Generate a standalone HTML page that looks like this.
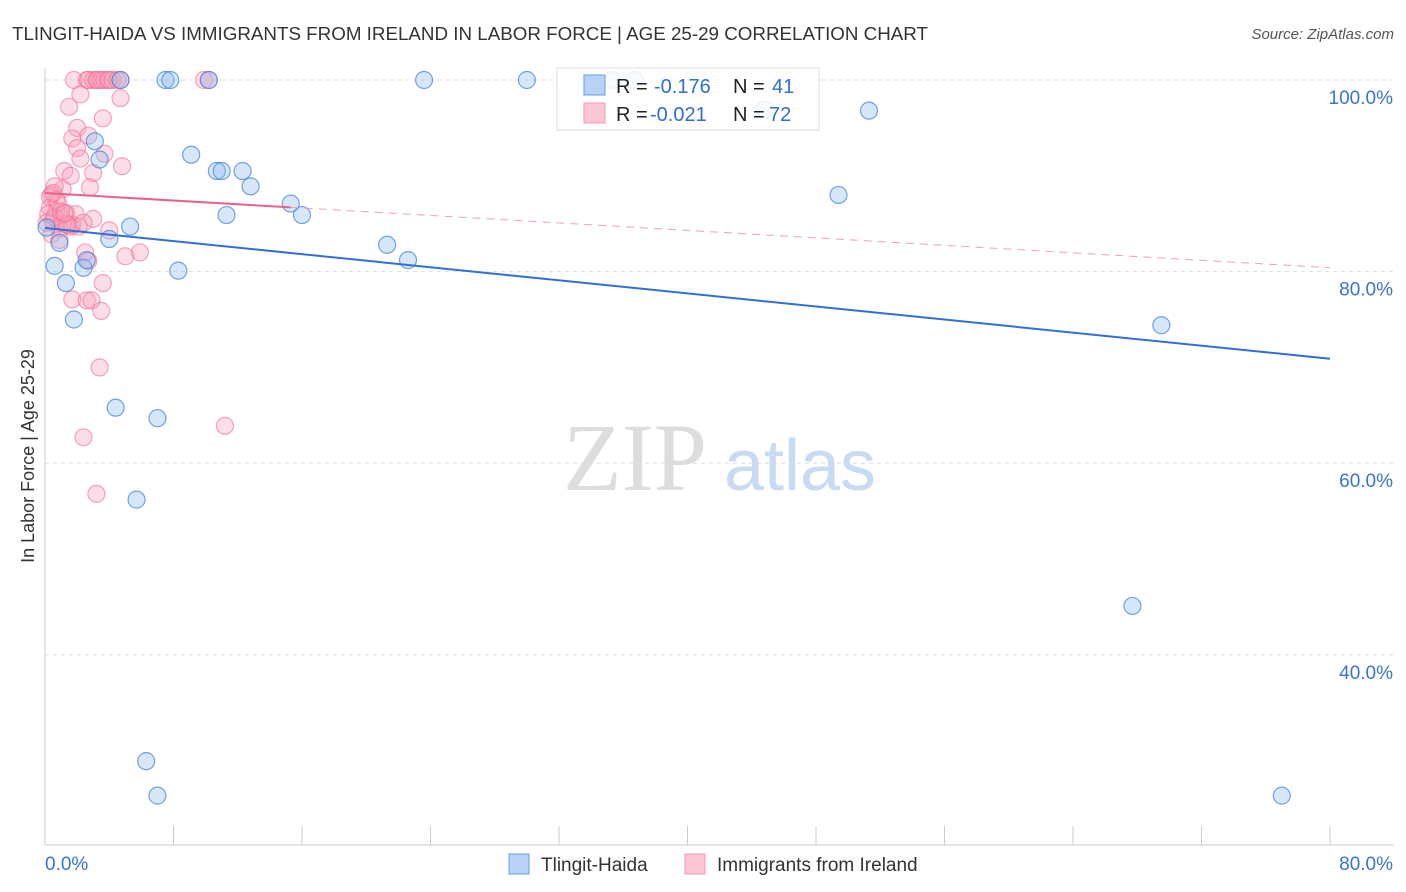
<!DOCTYPE html>
<html><head><meta charset="utf-8"><style>
body{margin:0;background:#fff;font-family:"Liberation Sans",sans-serif;}
svg{display:block}
</style></head><body>
<svg id="chart" width="1406" height="892" xmlns="http://www.w3.org/2000/svg">
<text x="12" y="40" font-size="18.5" fill="#333" textLength="916" lengthAdjust="spacingAndGlyphs">TLINGIT-HAIDA VS IMMIGRANTS FROM IRELAND IN LABOR FORCE | AGE 25-29 CORRELATION CHART</text>
<text x="1394" y="39" font-size="15" fill="#555" text-anchor="end" font-style="italic">Source: ZipAtlas.com</text>
<g id="grid"></g>
<g>
<text x="635" y="490" font-size="96" fill="#ddd" text-anchor="middle" font-family="Liberation Serif,serif">ZIP</text>
<text x="800" y="490" font-size="72" fill="#c9dbf3" text-anchor="middle">atlas</text>
</g>
<g id="marks"></g>
<g id="lines"></g>
<text transform="translate(34,456) rotate(-90)" font-size="18" fill="#333" text-anchor="middle">In Labor Force | Age 25-29</text>
<g>
<rect x="557" y="68" width="262" height="62" fill="#fff" fill-opacity="0.85" stroke="#ddd"/>
<rect x="584" y="75" width="21" height="20" fill="#b7d2f5" stroke="#6a9de0"/>
<rect x="584" y="103" width="21" height="20" fill="#fcc6d4" stroke="#f09ab2"/>
<text x="616" y="93" font-size="20" fill="#222">R =</text>
<text x="654" y="93" font-size="20" fill="#2f6fd0">-0.176</text>
<text x="733" y="93" font-size="20" fill="#222">N =</text>
<text x="772" y="93" font-size="20" fill="#2f6fd0">41</text>
<text x="616" y="121" font-size="20" fill="#222">R =</text>
<text x="650" y="121" font-size="20" fill="#2f6fd0">-0.021</text>
<text x="733" y="121" font-size="20" fill="#222">N =</text>
<text x="769" y="121" font-size="20" fill="#2f6fd0">72</text>
</g>
<g>
<rect x="509" y="854" width="20" height="20" fill="#b7d2f5" stroke="#6a9de0"/>
<text x="541" y="871" font-size="19" fill="#333">Tlingit-Haida</text>
<rect x="685" y="854" width="20" height="20" fill="#fcc6d4" stroke="#f09ab2"/>
<text x="717" y="871" font-size="19" fill="#333">Immigrants from Ireland</text>
</g>
</svg>
<script>
const blueX=[0.6,0.9,1.3,1.8,2.4,2.6,3.1,3.4,4.0,4.4,4.7,5.3,5.7,6.3,7.0,7.0,7.5,7.8,8.3,9.1,10.2,10.7,11.0,11.3,12.3,12.8,15.3,16.0,21.3,22.6,23.6,30.0,35.3,36.7,44.8,49.4,51.3,67.7,69.5,77.0,0.1];
const blueY=[80.6,83.0,78.8,75.0,80.4,81.2,93.6,91.7,83.4,65.8,100,84.7,56.2,28.9,25.3,64.7,100,100,80.1,92.2,100,90.5,90.5,85.9,90.5,88.9,87.1,85.9,82.8,81.2,100,100,100,100,96.9,88.0,96.8,45.1,74.4,25.3,84.6];
const pinkX=[1.8,2.6,2.7,3.0,3.2,3.3,3.5,3.7,3.9,4.0,4.2,4.5,4.7,9.9,10.2,2.2,1.5,4.7,3.6,2.0,1.7,2.7,2.0,2.2,3.7,4.8,3.0,1.2,1.6,2.8,1.1,0.6,0.4,0.7,0.3,0.7,1.0,1.9,3.0,0.5,1.3,1.6,0.9,0.4,1.7,0.2,0.9,4.0,5.9,5.0,2.5,2.7,1.7,2.6,2.9,3.6,3.5,3.4,2.4,3.2,11.2,0.1,1.3,0.6,1.0,0.3,2.1,1.4,2.4,0.8,0.5,1.2];
const pinkY=[100,100,100,100,100,100,100,100,100,100,100,100,100,100,100,98.5,97.2,98.1,96.0,95.0,93.9,94.2,92.9,91.8,92.3,91.0,90.3,90.5,90.0,88.8,88.6,88.9,88.0,87.5,86.7,86.3,85.9,86.0,85.5,85.3,85.0,84.7,84.5,83.9,84.9,86.0,83.3,84.3,82.0,81.6,82.0,81.1,77.1,77.0,77.0,78.8,75.9,70.0,62.7,56.8,63.9,85.1,86.1,85.7,86.3,87.8,84.7,84.9,85.1,87.2,88.2,86.1];
const blueFit=[84.55,70.9];
const pinkFit=[88.2,80.4];
const xTicks=[0,8,16,24,32,40,48,56,64,72,80];
const yTicks=[100,80,60,40];
const yLabels=["100.0%","80.0%","60.0%","40.0%"];
const X0=45,X1=1330,YT=80;
const sx=v=>X0+(X1-X0)*v/80;
const sy=v=>YT+(100-v)*9.58;
const NS="http://www.w3.org/2000/svg";
function mk(tag,attrs,parent){const e=document.createElementNS(NS,tag);for(const k in attrs)e.setAttribute(k,attrs[k]);parent.appendChild(e);return e;}
const grid=document.getElementById('grid'),marks=document.getElementById('marks'),lines=document.getElementById('lines');
yTicks.forEach((t,i)=>{
 const g=mk('line',{x1:X0,x2:1394,y1:sy(t),y2:sy(t),stroke:'#ddd','stroke-dasharray':'4,4'},grid);
 
 
 const l=mk('text',{x:1393,y:sy(t)+24,'font-size':19,fill:'#3b74d0','text-anchor':'end'},grid);
 l.textContent=yLabels[i];
 
 
});
const ax=mk('line',{x1:X0,x2:1394,y1:845,y2:845,stroke:'#ccc'},grid);


const ay=mk('line',{x1:X0,x2:X0,y1:68,y2:845,stroke:'#ccc'},grid);


xTicks.forEach(t=>{const k=mk('line',{x1:sx(t),x2:sx(t),y1:826,y2:845,stroke:'#ccc'},grid);
 
 });
[[0,'0.0%','start',45],[80,'80.0%','end',1393]].forEach(a=>{const l=mk('text',{x:a[3],y:870,'font-size':19,fill:'#3b74d0','text-anchor':a[2]},grid);l.textContent=a[1];
 
 });
pinkX.forEach((x,i)=>{const c=mk('circle',{cx:sx(x),cy:sy(pinkY[i]),r:8.5,fill:'rgba(248,160,185,0.35)',stroke:'rgba(236,110,150,0.6)','stroke-width':1.2},marks);
 
 });
blueX.forEach((x,i)=>{const c=mk('circle',{cx:sx(x),cy:sy(blueY[i]),r:8.5,fill:'rgba(140,185,240,0.35)',stroke:'rgba(60,125,215,0.7)','stroke-width':1.2},marks);
 
 });
const bl=mk('line',{x1:sx(0),y1:sy(blueFit[0]),x2:sx(80),y2:sy(blueFit[1]),stroke:'#2f6fd6','stroke-width':2},lines);


const pAt=x=>pinkFit[0]+(pinkFit[1]-pinkFit[0])*x/80;
const pl=mk('line',{x1:sx(0),y1:sy(pAt(0)),x2:sx(15.3),y2:sy(pAt(15.3)),stroke:'#e8608c','stroke-width':2},lines);


const pd=mk('line',{x1:sx(15.3),y1:sy(pAt(15.3)),x2:sx(80),y2:sy(pAt(80)),stroke:'#eea0b8','stroke-width':1,'stroke-dasharray':'8,6'},lines);


</script>
</body></html>
